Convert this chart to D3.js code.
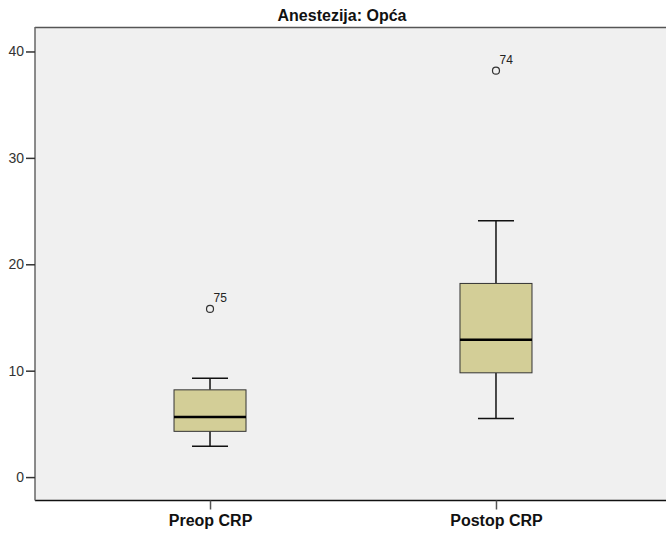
<!DOCTYPE html>
<html><head><meta charset="utf-8">
<script src="https://cdn.jsdelivr.net/npm/d3@7/dist/d3.min.js"></script>
<style>body{margin:0;background:#fff}svg{display:block}</style>
</head><body>
<svg id="c" width="666" height="535"></svg>
<script>
const title = "Anestezija: Opća";
const categories = ["Preop CRP", "Postop CRP"];
const whiskerLow = [2.9, 5.5];
const q1 = [4.3, 9.8];
const median = [5.65, 12.9];
const q3 = [8.2, 18.2];
const whiskerHigh = [9.3, 24.1];
const outlierValues = [15.8, 38.2];
const outlierLabels = ["75", "74"];
const yTicks = [0, 10, 20, 30, 40];

const svg = d3.select("#c");
const L = 35, T = 27, R = 671, B = 500.5;
const FONT = "Arial, 'Liberation Sans', sans-serif";
const y = d3.scaleLinear().domain([-2.2, 42.3]).range([B, T]);
const x = d3.scalePoint().domain(categories).range([L, R]).padding(0.612);

svg.append("rect").attr("x", L).attr("y", T).attr("width", R - L).attr("height", B - T).attr("fill", "#f0f0f0");
svg.append("line").attr("x1", L).attr("x2", R).attr("y1", T + 0.5).attr("y2", T + 0.5).attr("stroke", "#555").attr("stroke-width", 1.5);
svg.append("line").attr("x1", L).attr("x2", R).attr("y1", B).attr("y2", B).attr("stroke", "#111").attr("stroke-width", 1.5);

const yAxis = d3.axisLeft(y).tickValues(yTicks).tickSize(9).tickPadding(2).tickFormat(d3.format("d"));
const gy = svg.append("g").attr("transform", `translate(${L},0)`).call(yAxis);
gy.select(".domain").attr("stroke", "#666").attr("stroke-width", 1.5).attr("d", `M0,${T}V${B}`);
gy.selectAll(".tick line").attr("stroke", "#333").attr("stroke-width", 1.5);
gy.selectAll(".tick text").attr("font-family", FONT).attr("font-size", 14).attr("fill", "#333");

const xAxis = d3.axisBottom(x).tickSize(9).tickPadding(5);
const gx = svg.append("g").attr("transform", `translate(0,${B})`).call(xAxis);
gx.select(".domain").remove();
gx.selectAll(".tick line").attr("stroke", "#555").attr("stroke-width", 1.5);
gx.selectAll(".tick text").attr("font-family", FONT).attr("font-size", 16).attr("font-weight", "bold").attr("fill", "#111");

const boxW = 72, capW = 36;
categories.forEach((c, i) => {
  const cx = x(c);
  const g = svg.append("g");
  g.append("line").attr("x1", cx).attr("x2", cx).attr("y1", y(whiskerHigh[i])).attr("y2", y(q3[i])).attr("stroke", "#111").attr("stroke-width", 1.5);
  g.append("line").attr("x1", cx).attr("x2", cx).attr("y1", y(q1[i])).attr("y2", y(whiskerLow[i])).attr("stroke", "#111").attr("stroke-width", 1.5);
  [whiskerHigh[i], whiskerLow[i]].forEach(v => {
    g.append("line").attr("x1", cx - capW / 2).attr("x2", cx + capW / 2).attr("y1", y(v)).attr("y2", y(v)).attr("stroke", "#111").attr("stroke-width", 1.5);
  });
  g.append("rect").attr("x", cx - boxW / 2).attr("y", y(q3[i])).attr("width", boxW).attr("height", y(q1[i]) - y(q3[i]))
    .attr("fill", "#d3ce97").attr("stroke", "#333").attr("stroke-width", 1);
  g.append("line").attr("x1", cx - boxW / 2).attr("x2", cx + boxW / 2).attr("y1", y(median[i])).attr("y2", y(median[i])).attr("stroke", "#000").attr("stroke-width", 2.5);
  g.append("circle").attr("cx", cx).attr("cy", y(outlierValues[i])).attr("r", 3.5).attr("fill", "none").attr("stroke", "#333").attr("stroke-width", 1.2);
  g.append("text").attr("x", cx + 3.5).attr("y", y(outlierValues[i]) - 7).text(outlierLabels[i])
    .attr("font-family", FONT).attr("font-size", 12).attr("fill", "#222");
});

svg.append("text").attr("x", 342).attr("y", 21).attr("text-anchor", "middle").text(title)
  .attr("font-family", FONT).attr("font-size", 16).attr("font-weight", "bold").attr("fill", "#111");
</script>
</body></html>
